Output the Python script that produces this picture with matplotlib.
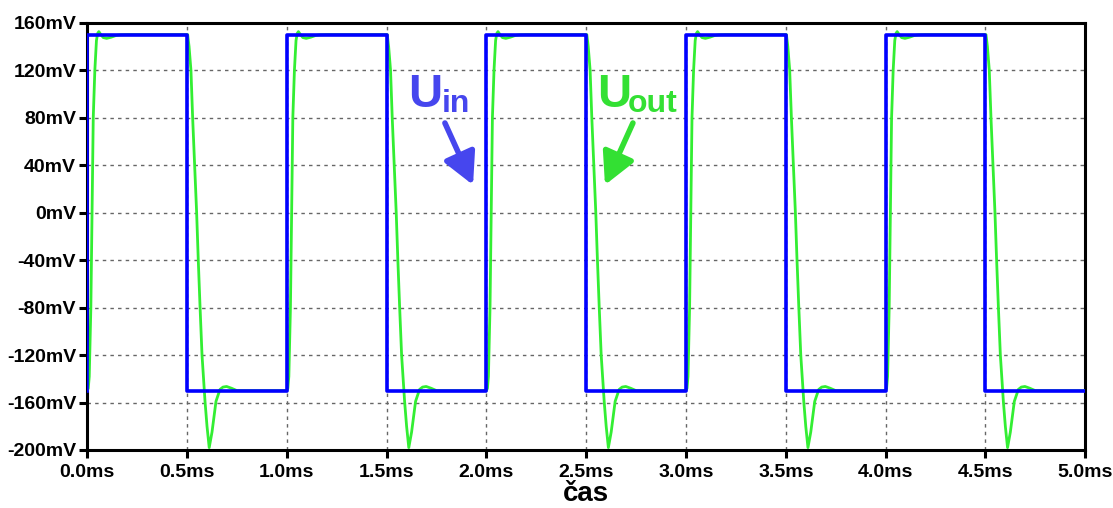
import numpy as np
import matplotlib
matplotlib.use("Agg")
import matplotlib.pyplot as plt

plt.rcParams["font.family"] = ["Liberation Sans", "DejaVu Sans"]
plt.rcParams["font.weight"] = "bold"

# Input square wave (time in ms, level in mV)
uin_t = [0.0, 0.0, 0.5, 1.0, 1.5, 2.0, 2.5, 3.0, 3.5, 4.0, 4.5, 5.0]
uin_mv = [-150, 150, -150, 150, -150, 150, -150, 150, -150, 150, -150, -150]

# One period of the output (time within period in ms, mV)
cycle_t = [0.000, 0.005, 0.010, 0.018, 0.024, 0.030, 0.038, 0.046, 0.052, 0.058,
           0.066, 0.080, 0.097, 0.120, 0.145, 0.165, 0.200, 0.503, 0.510, 0.5195,
           0.528, 0.538, 0.548, 0.556, 0.565, 0.575, 0.590, 0.600, 0.611, 0.625,
           0.645, 0.665, 0.680, 0.698, 0.723, 0.750, 1.000]
cycle_mv = [-150, -148, -138, -80, 0, 80, 120, 145, 151, 152.5,
            150.5, 147.5, 146.8, 147.8, 149.3, 149.8, 150, 150, 140, 120,
            80, 40, 0, -39, -79, -120, -159, -180, -198, -185,
            -159, -149, -147, -146.5, -148, -150, -150]
n_periods = 5
period = 1.0

y_ticks = [-200, -160, -120, -80, -40, 0, 40, 80, 120, 160]
x_ticks = [0.0, 0.5, 1.0, 1.5, 2.0, 2.5, 3.0, 3.5, 4.0, 4.5, 5.0]

# the output repeats every period
uout_t = np.concatenate([np.array(cycle_t) + k * period for k in range(n_periods)])
uout_mv = np.tile(cycle_mv, n_periods)

fig = plt.figure(figsize=(11.13, 5.08), dpi=100)
ax = fig.add_axes([0.0784, 0.1142, 0.8966, 0.8411])

ax.plot(uout_t, uout_mv, color="#33ee33", lw=2.0, zorder=3)
ax.step(uin_t, uin_mv, where="post", color="#0000ff", lw=2.6, zorder=4)

ax.set_xlim(0, 5)
ax.set_ylim(-200, 160)
ax.set_xticks(x_ticks)
ax.set_xticklabels([f"{t:.1f}ms" for t in x_ticks])
ax.set_yticks(y_ticks)
ax.set_yticklabels([f"{v}mV" for v in y_ticks])
ax.tick_params(direction="out", length=6, width=2.2, labelsize=14, pad=2)
ax.tick_params(axis="x", pad=4)
for lab in ax.get_xticklabels() + ax.get_yticklabels():
    lab.set_fontweight("bold")

ax.grid(True, color="#666666", lw=1.0, linestyle=(0, (2.5, 3)))
for s in ax.spines.values():
    s.set_linewidth(2.2)
    s.set_color("black")

ax.set_xlabel("čas", fontsize=20, fontweight="bold", labelpad=0)

# labels with arrows
blue_txt = "#4646ee"
green_txt = "#33e033"
arrow_style = "-|>,head_length=0.8,head_width=0.42"
ax.text(1.61, 89.3, "U", color=blue_txt, fontsize=34, fontweight="bold", va="baseline", ha="left")
ax.text(1.778, 85, "in", color=blue_txt, fontsize=23, fontweight="bold", va="baseline", ha="left")
ax.annotate("", xy=(1.933, 23.3), xytext=(1.792, 75.5),
            arrowprops=dict(arrowstyle=arrow_style, mutation_scale=24, lw=4.0,
                            color=blue_txt, shrinkA=0, shrinkB=0))

ax.text(2.553, 89.3, "U", color=green_txt, fontsize=34, fontweight="bold", va="baseline", ha="left")
ax.text(2.71, 85, "out", color=green_txt, fontsize=23, fontweight="bold", va="baseline", ha="left")
ax.annotate("", xy=(2.594, 23.3), xytext=(2.734, 75.5),
            arrowprops=dict(arrowstyle=arrow_style, mutation_scale=24, lw=4.0,
                            color=green_txt, shrinkA=0, shrinkB=0))

fig.savefig("out.png", dpi=100)
